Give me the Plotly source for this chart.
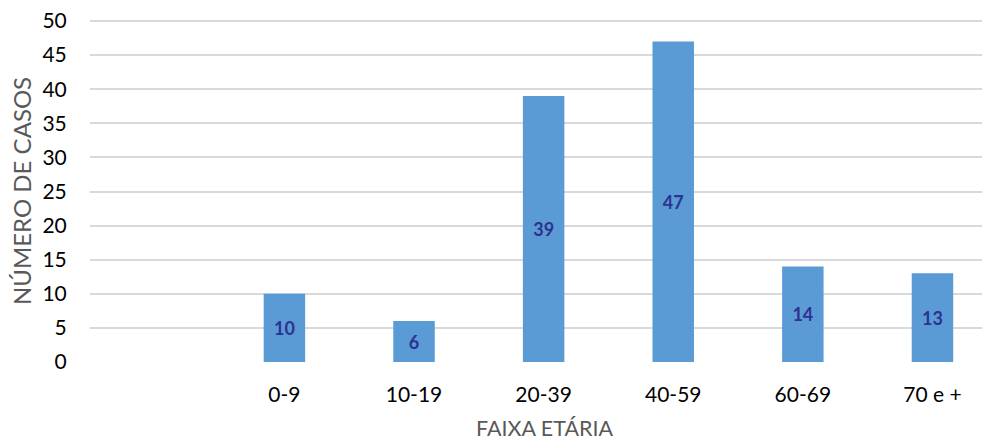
import plotly.graph_objects as go

categories = [" ", "0-9", "10-19", "20-39", "40-59", "60-69", "70 e +"]
values = [None, 10, 6, 39, 47, 14, 13]
labels = ["" if v is None else str(v) for v in values]
y_ticks = list(range(0, 51, 5))

FONT = "Lato, 'Open Sans', sans-serif"

fig = go.Figure()
fig.add_trace(go.Bar(
    x=categories, y=values, text=labels,
    textposition="inside", insidetextanchor="middle",
    textfont=dict(family=FONT, size=18, color="#2E3192", weight="bold"),
    marker=dict(color="#5B9BD5", line=dict(width=0)),
    width=0.32,
))

fig.update_layout(
    width=990, height=441,
    margin=dict(l=82, r=8, t=12, b=87),
    paper_bgcolor="white", plot_bgcolor="white",
    showlegend=False,
    font=dict(family=FONT, size=21, color="#000000"),
    xaxis=dict(
        type="category", range=[-0.5, 6.444], automargin=False,
        showgrid=False, zeroline=False, showline=False,
        ticks="outside", ticklen=14, tickcolor="rgba(0,0,0,0)",
        tickfont=dict(family=FONT, size=21, color="#000000"),
    ),
    yaxis=dict(
        range=[0, 50.15], tickvals=y_ticks, automargin=False,
        showgrid=True, gridcolor="#D9D9D9", gridwidth=1.5,
        zeroline=False, showline=False,
        ticks="outside", ticklen=18, tickcolor="rgba(0,0,0,0)",
        ticklabeloverflow="allow",
        tickfont=dict(family=FONT, size=21, color="#000000"),
    ),
    annotations=[
        dict(text="NÚMERO DE CASOS", xref="paper", yref="paper",
             x=(13 - 82) / 900, y=0.5, xanchor="center", yanchor="middle",
             textangle=-90, showarrow=False,
             font=dict(family=FONT, size=24, color="#595959")),
        dict(text="FAIXA ETÁRIA", xref="paper", yref="paper",
             x=(536 - 82) / 900, y=0, yshift=-66, xanchor="center", yanchor="middle",
             showarrow=False,
             font=dict(family=FONT, size=21.5, color="#595959")),
    ],
)

fig.write_html("out.html")
